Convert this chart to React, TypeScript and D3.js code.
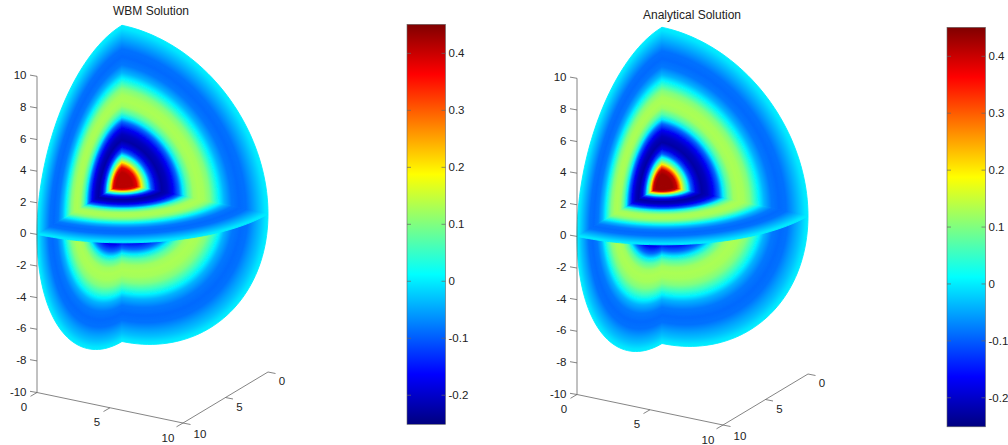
import React from 'react';
import * as d3 from 'd3';

const WIDTH = 1008;
const HEIGHT = 445;
const FONT = '"Liberation Sans", Arial, sans-serif';
const AXIS_COLOR = '#666';

// radial profile of the field, read along the z edge of the cut (above and below the z=0 plane)
const RADII = [0, 0.7, 1.0, 1.15, 1.33, 1.55, 1.77, 2.0, 2.3, 2.72, 3.1, 3.5, 3.9, 4.18, 4.5, 4.9, 5.25, 5.6, 6.0, 6.35, 6.65, 7.0, 7.5, 8.0, 8.5, 9.0, 9.4, 9.8, 10];
const LOWER_RADII = [0, 0.7, 1.0, 1.15, 1.33, 1.55, 1.77, 2.0, 2.3, 2.8, 3.25, 3.7, 4.1, 4.4, 4.7, 5.1, 5.45, 5.8, 6.2, 6.6, 6.9, 7.2, 7.7, 8.2, 8.65, 9.1, 9.5, 9.85, 10];
const WBM_VALUES = [0.41, 0.41, 0.38, 0.3, 0.2, 0.09, 0.01, -0.1, -0.18, -0.225, -0.21, -0.17, -0.09, 0, 0.07, 0.12, 0.13, 0.125, 0.1, 0.05, 0.005, -0.04, -0.08, -0.09, -0.085, -0.055, -0.03, -0.005, 0];
const ANALYTICAL_VALUES = [0.43, 0.43, 0.4, 0.31, 0.2, 0.09, 0.01, -0.1, -0.18, -0.225, -0.21, -0.17, -0.09, 0, 0.07, 0.12, 0.13, 0.125, 0.1, 0.05, 0.005, -0.04, -0.08, -0.09, -0.085, -0.055, -0.03, -0.005, 0];

const Z_TICKS = [10, 8, 6, 4, 2, 0, -2, -4, -6, -8, -10];
const XY_TICKS = [0, 5, 10];
const BAR_TICKS = [0.4, 0.3, 0.2, 0.1, 0, -0.1, -0.2];
const BAR_DOMAIN = [-0.251, 0.451];

const JET_STOPS = [0, 0.125, 0.375, 0.625, 0.875, 1];
const JET_COLORS = ['#000080', '#0000ff', '#00ffff', '#ffff00', '#ff0000', '#800000'];

const jet = d3.scaleLinear<string>().domain(JET_STOPS).range(JET_COLORS).clamp(true);
const valueToUnit = d3.scaleLinear().domain([-0.25, 0.45]).range([0, 1]).clamp(true);
const valueColor = (v: number) => jet(valueToUnit(v));

// screen offsets of the three data axes, measured on the box edges
const xPx = d3.scaleLinear().domain([0, 10]).range([0, 146]);
const xPy = d3.scaleLinear().domain([0, 10]).range([0, 30.5]);
const yPx = d3.scaleLinear().domain([10, 0]).range([0, 85]);
const yPy = d3.scaleLinear().domain([10, 0]).range([0, -51]);
const zPy = d3.scaleLinear().domain([-10, 10]).range([392.5, 76.3]);
const AXIS_LEFT = 37;

type P3 = [number, number, number];
function project([x, y, z]: P3): [number, number] {
  return [AXIS_LEFT + xPx(x) + yPx(y), zPy(z) + xPy(x) + yPy(y)];
}

const R = 10;
const FACES: { id: string; u: P3; v: P3; stops: string }[] = [
  { id: 'xLow', u: [0, R, 0], v: [0, 0, -R], stops: 'low' },
  { id: 'yLow', u: [R, 0, 0], v: [0, 0, -R], stops: 'low' },
  { id: 'xUp', u: [0, R, 0], v: [0, 0, R], stops: 'up' },
  { id: 'yUp', u: [R, 0, 0], v: [0, 0, R], stops: 'up' },
  { id: 'zUp', u: [R, 0, 0], v: [0, R, 0], stops: 'up' },
];

const line = d3.line();

function Face({ face, prefix }: { face: (typeof FACES)[number]; prefix: string }) {
  const o = project([0, 0, 0]);
  const a = project(face.u);
  const b = project(face.v);
  const arc = d3.range(0, 91, 2).map((deg) => {
    const t = (deg * Math.PI) / 180;
    const p: P3 = [0, 1, 2].map((i) => face.u[i] * Math.cos(t) + face.v[i] * Math.sin(t)) as P3;
    return project(p);
  });
  const d = line([o, ...arc]) + 'Z';
  const id = `${prefix}-${face.id}`;
  return (
    <g>
      <defs>
        <radialGradient
          id={id}
          href={`#${prefix}-${face.stops}`}
          gradientUnits="userSpaceOnUse"
          cx={0}
          cy={0}
          r={1}
          gradientTransform={`matrix(${a[0] - o[0]},${a[1] - o[1]},${b[0] - o[0]},${b[1] - o[1]},${o[0]},${o[1]})`}
        />
      </defs>
      <path d={d} fill={`url(#${id})`} stroke={`url(#${id})`} strokeWidth={0.9} />
    </g>
  );
}

function Colorbar({ id, x, y0, y1 }: { id: string; x: number; y0: number; y1: number }) {
  const w = 38.5;
  const y = d3.scaleLinear().domain(BAR_DOMAIN).range([y1, y0]);
  return (
    <g>
      <defs>
        <linearGradient id={id} x1="0" y1="1" x2="0" y2="0">
          {JET_STOPS.map((s, i) => (
            <stop key={s} offset={s} stopColor={JET_COLORS[i]} />
          ))}
        </linearGradient>
      </defs>
      <rect x={x} y={y0} width={w} height={y1 - y0} fill={`url(#${id})`} stroke={AXIS_COLOR} strokeWidth={0.6} />
      {BAR_TICKS.map((t) => (
        <g key={t} stroke={AXIS_COLOR} strokeWidth={0.7}>
          <line x1={x} x2={x + 4} y1={y(t)} y2={y(t)} />
          <line x1={x + w - 4} x2={x + w} y1={y(t)} y2={y(t)} />
        </g>
      ))}
      {BAR_TICKS.map((t) => (
        <text key={t} x={x + w + 3} y={y(t) + 4} fontSize={11.5} fill="#222">
          {String(t)}
        </text>
      ))}
    </g>
  );
}

function Panel({ prefix, title, titleX, titleY, dx, dy, values }: {
  prefix: string; title: string; titleX: number; titleY: number; dx: number; dy: number; values: number[];
}) {
  const corner = project([0, 10, -10]);
  const front = project([10, 10, -10]);
  const back = project([10, 0, -10]);
  const top = project([0, 10, 10]);
  return (
    <g>
      <text x={titleX} y={titleY} textAnchor="middle" fontSize={12} fill="#222">{title}</text>
      <g transform={`translate(${dx},${dy})`}>
        <defs>
          <radialGradient id={`${prefix}-up`}>
            {RADII.map((r, i) => (
              <stop key={r} offset={r / R} stopColor={valueColor(values[i])} />
            ))}
          </radialGradient>
          <radialGradient id={`${prefix}-low`}>
            {LOWER_RADII.map((r, i) => (
              <stop key={r} offset={r / R} stopColor={valueColor(values[i])} />
            ))}
          </radialGradient>
          <filter id={`${prefix}-soft`} x="-5%" y="-5%" width="110%" height="110%">
            <feGaussianBlur stdDeviation={0.6} />
          </filter>
        </defs>
        <g filter={`url(#${prefix}-soft)`}>
          {FACES.map((f) => (
            <Face key={f.id} face={f} prefix={prefix} />
          ))}
        </g>
        <g stroke={AXIS_COLOR} strokeWidth={0.8} fill="none">
          <line x1={top[0]} y1={top[1]} x2={corner[0]} y2={corner[1]} />
          <line x1={corner[0]} y1={corner[1]} x2={front[0]} y2={front[1]} />
          <line x1={front[0]} y1={front[1]} x2={back[0]} y2={back[1]} />
          {Z_TICKS.map((t) => {
            const p = project([0, 10, t]);
            return <line key={t} x1={p[0]} y1={p[1]} x2={p[0] - 7} y2={p[1] - 1.2} />;
          })}
          {XY_TICKS.map((t) => {
            const p = project([t, 10, -10]);
            return <line key={t} x1={p[0]} y1={p[1]} x2={p[0] - 6.5} y2={p[1] + 3.8} />;
          })}
          {XY_TICKS.map((t) => {
            const p = project([10, t, -10]);
            return <line key={t} x1={p[0]} y1={p[1]} x2={p[0] + 7.5} y2={p[1] + 1.5} />;
          })}
        </g>
        <g fontSize={11.5} fill="#222">
          {Z_TICKS.map((t) => {
            const p = project([0, 10, t]);
            return (
              <text key={t} x={p[0] - 10.5} y={p[1] + 3} textAnchor="end">{String(t)}</text>
            );
          })}
          {XY_TICKS.map((t) => {
            const p = project([t, 10, -10]);
            return (
              <text key={t} x={p[0] - (t === 10 ? 15 : 13)} y={p[1] + 18.5} textAnchor="middle">{String(t)}</text>
            );
          })}
          {XY_TICKS.map((t) => {
            const p = project([10, t, -10]);
            return (
              <text key={t} x={p[0] + (t === 10 ? 17 : 14)} y={p[1] + (t === 10 ? 15 : 13)} textAnchor="middle">{String(t)}</text>
            );
          })}
        </g>
      </g>
    </g>
  );
}

export default function App() {
  return (
    <svg
      width={WIDTH}
      height={HEIGHT}
      viewBox={`0 0 ${WIDTH} ${HEIGHT}`}
      style={{ position: 'absolute', left: 0, top: 0, background: '#fff', fontFamily: FONT }}
    >
      <Panel prefix="wbm" title="WBM Solution" titleX={151} titleY={15} dx={0} dy={0} values={WBM_VALUES} />
      <Colorbar id="bar-wbm" x={407} y0={24.3} y1={424.3} />
      <Panel prefix="ana" title="Analytical Solution" titleX={692} titleY={19} dx={540} dy={2} values={ANALYTICAL_VALUES} />
      <Colorbar id="bar-ana" x={947} y0={27.3} y1={426.8} />
    </svg>
  );
}
